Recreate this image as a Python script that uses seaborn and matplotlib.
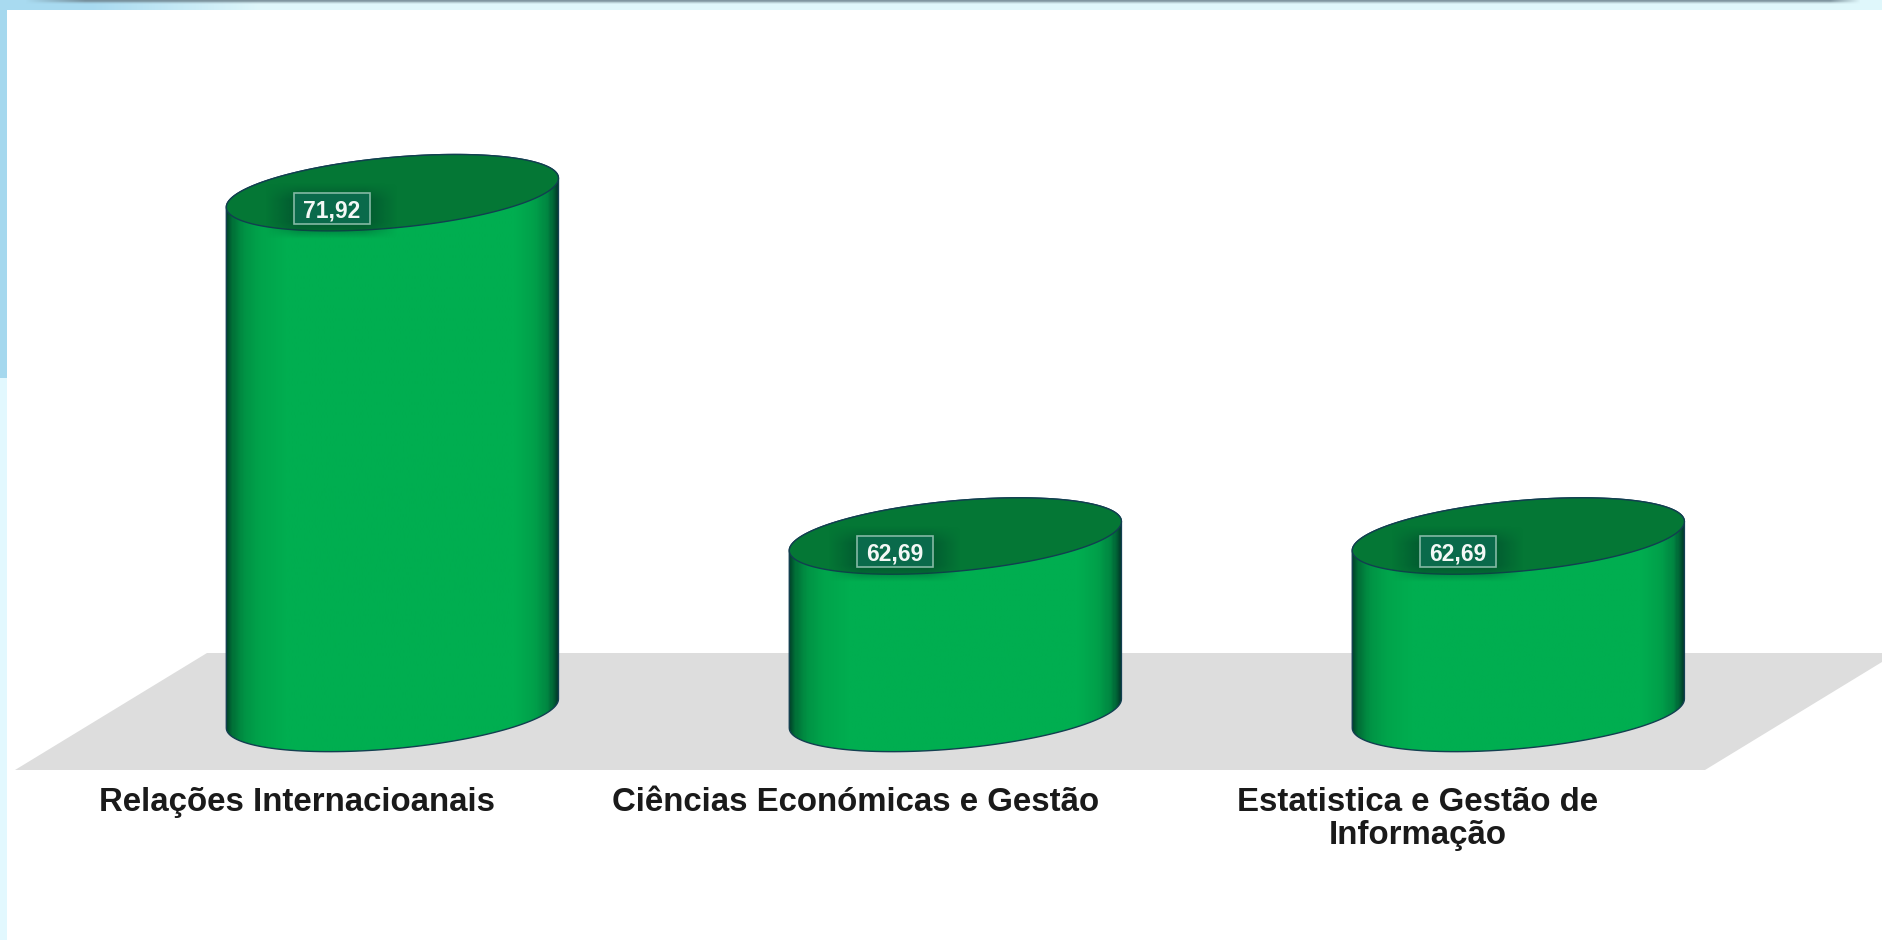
import matplotlib

matplotlib.use("Agg")

import numpy as np
import matplotlib.pyplot as plt
import seaborn as sns
from matplotlib.colors import LinearSegmentedColormap, to_rgb
from matplotlib.patches import PathPatch, Polygon, Rectangle
from matplotlib.path import Path
from matplotlib.transforms import ScaledTranslation

categories = ["Relações Internacioanais", "Ciências Económicas e Gestão", "Estatistica e Gestão de\nInformação"]
values = [71.92, 62.69, 62.69]

W, H = 1882, 940
FLOOR_FRONT = 770  # px from top, also bottom of the axes
BAR_WIDTH = 0.59
TILT = 0.39  # ellipse rise towards the right, value units
DEPTH = 0.95  # ellipse half height, value units
LABEL_SHIFT = [-95, -100, -101]  # px, labels sit left of the cylinders

sns.set_theme(style="white")
plt.rcParams["font.family"] = ["Liberation Sans", "DejaVu Sans"]

side_cmap = LinearSegmentedColormap.from_list(
    "side",
    [
        (0.0, "#014a2c"),
        (0.015, "#006f37"),
        (0.05, "#009244"),
        (0.1, "#00a44b"),
        (0.18, "#00ae50"),
        (0.87, "#00ae50"),
        (0.93, "#00a04a"),
        (0.97, "#008541"),
        (0.99, "#005a33"),
        (1.0, "#013d2a"),
    ],
)


def fx(px):
    return px / W


def fy(px):
    return 1 - px / H


def ellipse_points(cx, yc, half, t):
    return np.column_stack([cx + half * np.cos(t), yc + TILT * np.cos(t) + DEPTH * np.sin(t)])


def draw_cylinder(ax, bar, base, value):
    x0, w = bar.get_x(), bar.get_width()
    cx, half = x0 + w / 2, w / 2

    # cuerpo: lado izquierdo, arco inferior, lado derecho, arco superior
    lower = ellipse_points(cx, base, half, np.linspace(np.pi, 2 * np.pi, 80))
    upper = ellipse_points(cx, value, half, np.linspace(0, np.pi, 80))
    body = Path(np.vstack([lower, upper, lower[:1]]), closed=True)
    body_patch = PathPatch(body, facecolor="none", edgecolor="#123f50", lw=1.0, zorder=4)
    ax.add_patch(body_patch)
    grad = np.linspace(0, 1, 300).reshape(1, -1)
    im = ax.imshow(
        grad, cmap=side_cmap, aspect="auto", interpolation="bilinear",
        extent=(x0, x0 + w, base - 2, value + 2), zorder=3,
    )
    im.set_clip_path(body_patch)

    top = Polygon(
        ellipse_points(cx, value, half, np.linspace(0, 2 * np.pi, 160)),
        closed=True, facecolor="#047735", edgecolor="#123f50", lw=1.0, zorder=5,
    )
    ax.add_patch(top)

    # caja del valor con su sombra suave
    bx, by = cx - 0.1755, value - 0.833
    bw, bh = 0.135, 0.83
    gx = np.clip(np.minimum(np.linspace(0, 1, 120) / 0.25, (1 - np.linspace(0, 1, 120)) / 0.25), 0, 1)
    gy = np.clip(np.minimum(np.linspace(0, 1, 80) / 0.3, (1 - np.linspace(0, 1, 80)) / 0.3), 0, 1)
    rgba = np.zeros((80, 120, 4))
    rgba[..., :3] = to_rgb("#01512f")
    rgba[..., 3] = 0.8 * np.outer(gy, gx)
    shadow = ax.imshow(
        rgba, aspect="auto", interpolation="bilinear",
        extent=(bx - 0.05, bx + bw + 0.05, by - 0.4, by + bh + 0.25), zorder=6,
    )
    clip = PathPatch(body, transform=ax.transData, facecolor="none", edgecolor="none")
    shadow.set_clip_path(clip)
    ax.add_patch(Rectangle((bx, by), bw, bh, facecolor="#0a6a4b", edgecolor="#84b9a5", lw=1.2, zorder=7))
    ax.text(
        bx + bw / 2, by + bh / 2, f"{value:.2f}".replace(".", ","), color="#f4f8f6", fontsize=16.5,
        fontweight="bold", ha="center", va="center_baseline", zorder=8,
    )


def draw_top_strip(fig):
    # franja superior: azul a la izquierda, cian claro despues, con sombra oscura arriba
    xs = np.arange(W)
    rows = 10
    img = np.zeros((rows, W, 3))
    left, light = np.array(to_rgb("#a8daf0")), np.array(to_rgb("#dff7fb"))
    mix = np.clip((xs - 90) / 170, 0, 1)[None, :, None]
    img[:] = left * (1 - mix) + light * mix
    dark = np.array(to_rgb("#6f8590"))
    fade = np.array([0.85, 0.7, 0.35, 0.12, 0, 0, 0, 0, 0, 0])[:, None]
    ends = np.clip(np.minimum((xs - 25) / 60, (1860 - xs) / 30), 0, 1)[None, :]
    alpha = (fade * ends)[..., None]
    img = img * (1 - alpha) + dark * alpha
    strip_ax = fig.add_axes([0, fy(rows), 1, rows / H], zorder=1)
    strip_ax.imshow(img, aspect="auto", interpolation="nearest")
    strip_ax.axis("off")


def main():
    fig = plt.figure(figsize=(W / 100, H / 100), dpi=100, facecolor="white")

    # franjas del fondo de la diapositiva
    fig.add_artist(Rectangle((0, fy(378)), fx(7), 378 / H, transform=fig.transFigure, facecolor="#a5d8ee", lw=0))
    fig.add_artist(Rectangle((0, 0), fx(7), fy(378), transform=fig.transFigure, facecolor="#e2f8fe", lw=0))
    draw_top_strip(fig)

    # suelo gris en perspectiva
    fig.add_artist(
        Polygon(
            [(fx(15), fy(770)), (fx(1705), fy(770)), (fx(1882), fy(662)), (fx(1882), fy(653)), (fx(207), fy(653))],
            closed=True, transform=fig.transFigure, facecolor="#dddddd", lw=0,
        )
    )

    ax = fig.add_axes([0, fy(FLOOR_FRONT), 1, FLOOR_FRONT / H], facecolor="none", zorder=2)
    sns.barplot(x=categories, y=values, width=BAR_WIDTH, color="#00ae50", ax=ax)

    base = 57.92
    ylim = (56.40, 77.1)
    xlim = (-0.697, 2.646)
    for bar, value in zip(ax.patches, values):
        bar.set_facecolor("none")
        bar.set_linewidth(0)
        draw_cylinder(ax, bar, base, value)
    ax.set_xlim(xlim)
    ax.set_ylim(ylim)

    ax.set_yticks([])
    ax.set_ylabel("")
    ax.tick_params(axis="x", length=0, pad=12.5)
    for label, shift in zip(ax.get_xticklabels(), LABEL_SHIFT):
        label.set_fontsize(23.8)
        label.set_fontweight("bold")
        label.set_color("#1a1a1a")
        label.set_linespacing(1.05)
        label.set_transform(label.get_transform() + ScaledTranslation(shift / 100, 0, fig.dpi_scale_trans))
    sns.despine(ax=ax, left=True, bottom=True)

    fig.savefig("out.png", dpi=100)
    plt.close(fig)


if __name__ == "__main__":
    main()
